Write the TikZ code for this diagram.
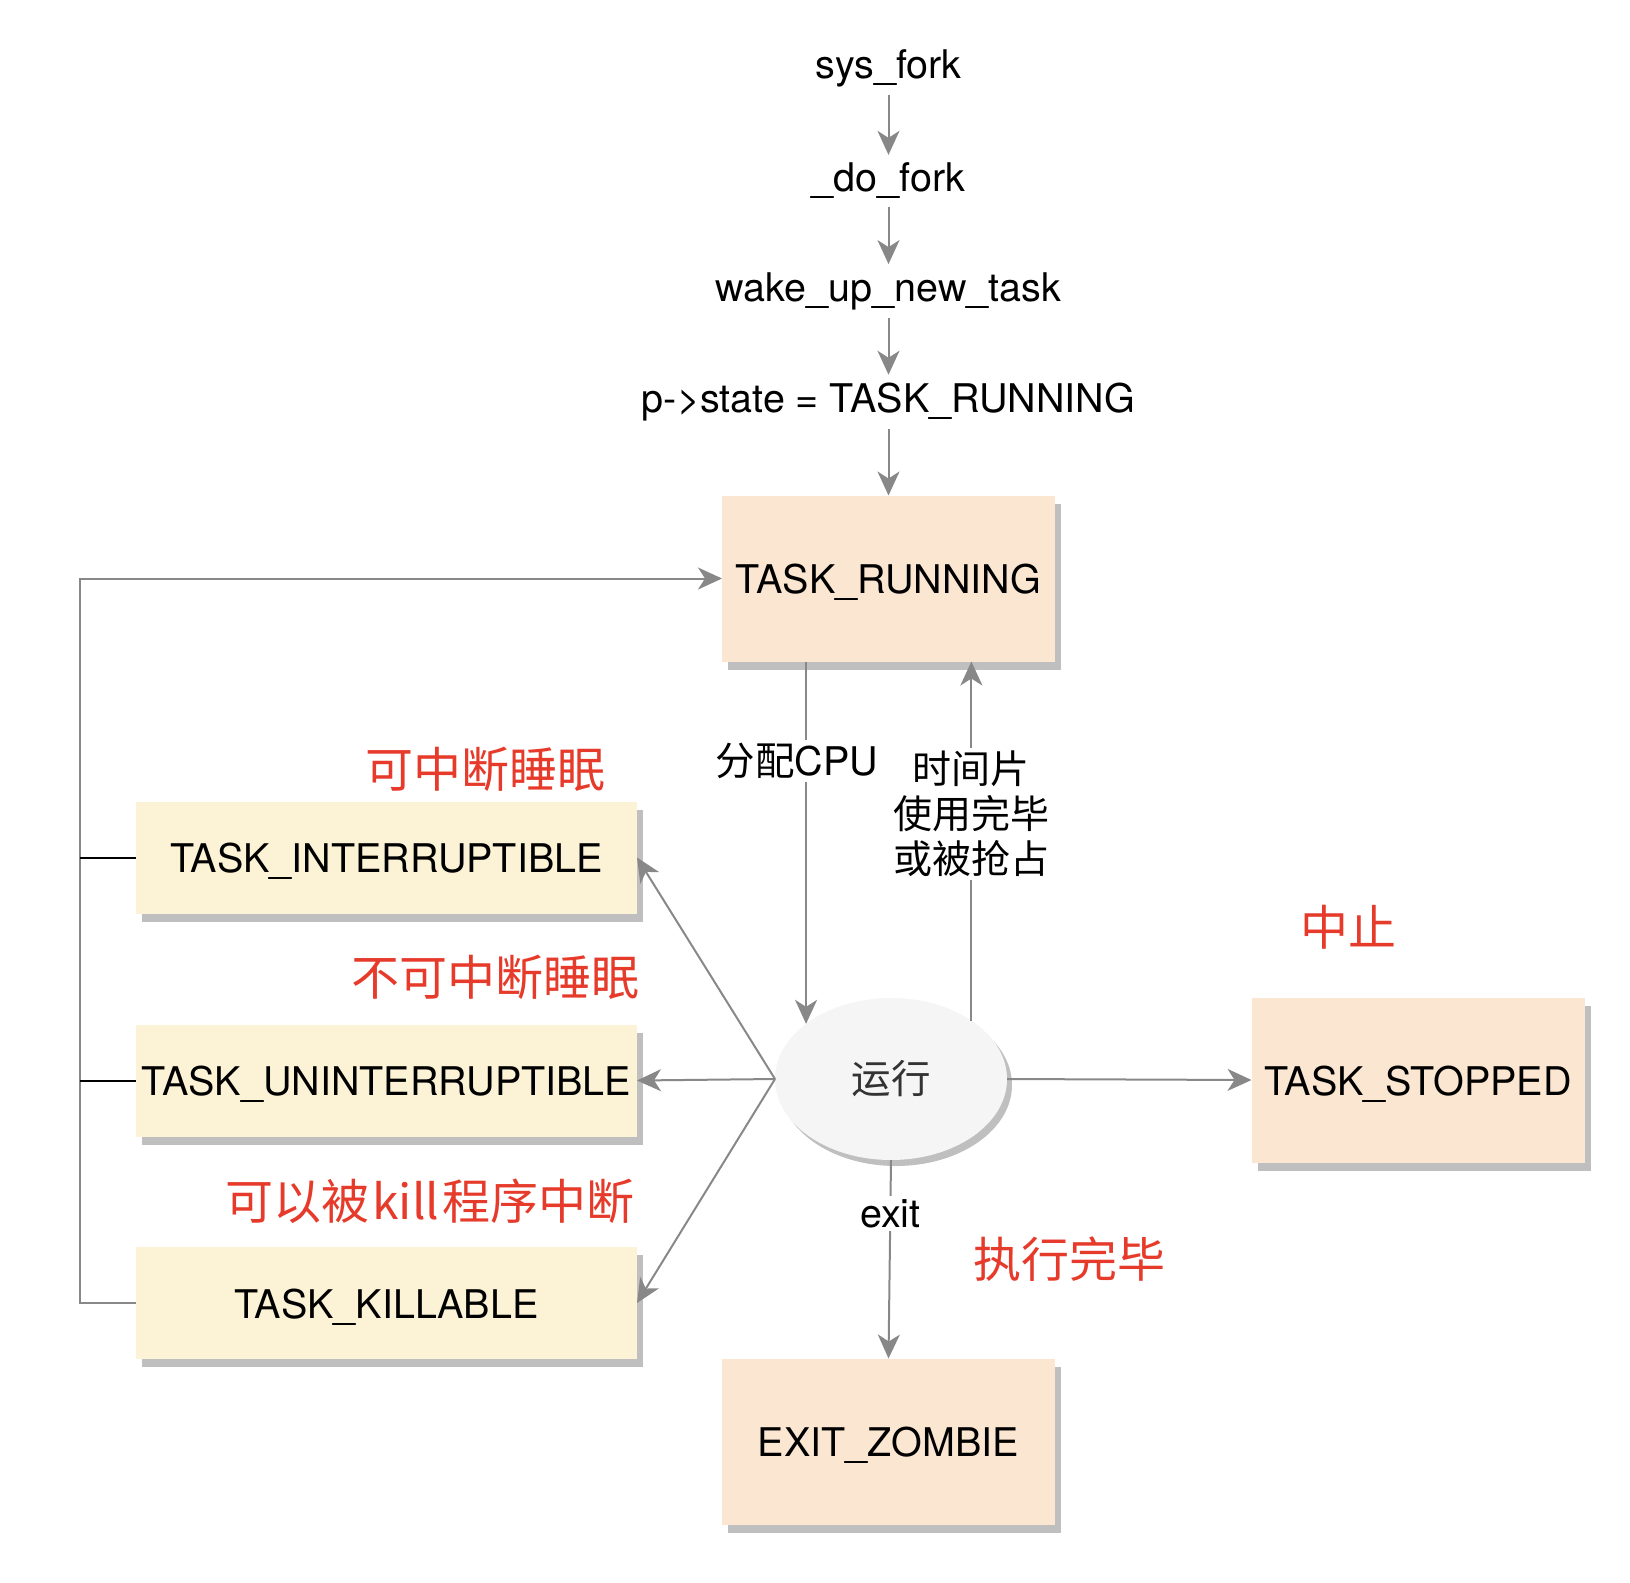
\documentclass[tikz,border=0pt]{standalone}
\usepackage{fontspec}
\setmainfont{TeX Gyre Heros}
\newfontfamily\cjk{Noto Sans CJK SC}
\usetikzlibrary{arrows.meta,shapes.geometric,shadows}
\definecolor{peach}{HTML}{FAE6D1}
\definecolor{cream}{HTML}{FCF2D5}
\definecolor{elfill}{HTML}{F5F5F5}
\definecolor{shgray}{HTML}{BFBFBF}
\definecolor{lgray}{HTML}{888888}
\definecolor{redtxt}{HTML}{E63B2B}
\begin{document}
\begin{tikzpicture}[x=1pt,y=-1pt,
  every node/.style={font=\fontsize{39.5}{46}\selectfont, text=black},
  plain/.style={inner xsep=2pt, inner ysep=8pt},
  statebox/.style={rectangle, draw=none, fill=peach, minimum width=333pt, minimum height=166pt, outer sep=0pt,
    text height=30pt, text depth=0pt,
    drop shadow={shadow xshift=6pt, shadow yshift=-8pt, fill=shgray, opacity=1}},
  sleepbox/.style={statebox, fill=cream, minimum width=501pt, minimum height=112pt},
  runel/.style={ellipse, fill=elfill, minimum width=232pt, minimum height=162pt, inner sep=0pt, outer sep=0pt,
    text=black!80, drop shadow={shadow xshift=5pt, shadow yshift=-6pt, fill=shgray, opacity=1}},
  conn/.style={draw=lgray, line width=2pt, -{Stealth[length=24pt,width=22pt,inset=7pt]}},
  stub/.style={draw=black, line width=2pt},
  lbl/.style={fill=white, inner sep=3pt},
  cjklbl/.style={lbl, font=\cjk\fontsize{39}{45}\selectfont, align=center},
  redlbl/.style={font=\cjk\fontsize{48}{56}\selectfont, text=redtxt, inner sep=0pt}
]
\useasboundingbox (0,0) rectangle (1630,1582);

% top chain
\node[plain] (sf) at (888.5,68) {sys\_fork};
\node[plain] (df) at (888.5,181) {\_do\_fork};
\node[plain] (wk) at (888.5,291) {wake\_up\_new\_task};
\node[plain] (ps) at (888.5,402) {p->state = TASK\_RUNNING};

% states
\node[statebox] (run) at (888.5,578.5) {TASK\_RUNNING};
\node[sleepbox] (int) at (386.5,857.5) {TASK\_INTERRUPTIBLE};
\node[sleepbox] (unint) at (386.5,1080.5) {TASK\_UNINTERRUPTIBLE};
\node[sleepbox] (kill) at (386.5,1303) {TASK\_KILLABLE};
\node[runel] (el) at (891,1079) {\cjk 运行};
\node[statebox, minimum height=165pt] (stop) at (1418,1080) {TASK\_STOPPED};
\node[statebox] (zom) at (888.5,1441.5) {EXIT\_ZOMBIE};

% red annotations
\node[redlbl] (l1) at (485.5,769) {可中断睡眠};
\node[redlbl] (l2) at (495,977) {不可中断睡眠};
\node[redlbl] (l3) at (430,1201) {可以被\hspace{3pt}kill\hspace{3pt}程序中断};
\node[redlbl] (l4) at (1348,927) {中止};
\node[redlbl] (l5) at (1069,1259) {执行完毕};

\coordinate (loopx) at (80,0);

% connectors
\draw[conn] (sf) -- (df);
\draw[conn] (df) -- (wk);
\draw[conn] (wk) -- (ps);
\draw[conn] (ps) -- (run);

\draw[conn] (kill.west) -- (kill.west -| loopx) |- (run.west);
\draw[stub] (int.west) -- (int.west -| loopx);
\draw[stub] (unint.west) -- (unint.west -| loopx);

\draw[conn] (el.west) -- (int.east);
\draw[conn] (el.west) -- (unint.east);
\draw[conn] (el.west) -- (kill.east);
\draw[conn] (el.east) -- (stop.west);

\draw[conn] (el.south) -- node[lbl, pos=0.27] {exit} (zom.north);
\draw[conn] (el.147 |- run.south) -- node[lbl, pos=0.274, xshift=-9pt] {{\cjk 分配}CPU} (el.147);
\draw[conn] (el.36) -- node[cjklbl, pos=0.575] {时间片\\使用完毕\\或被抢占} (el.36 |- run.south);
\end{tikzpicture}
\end{document}
